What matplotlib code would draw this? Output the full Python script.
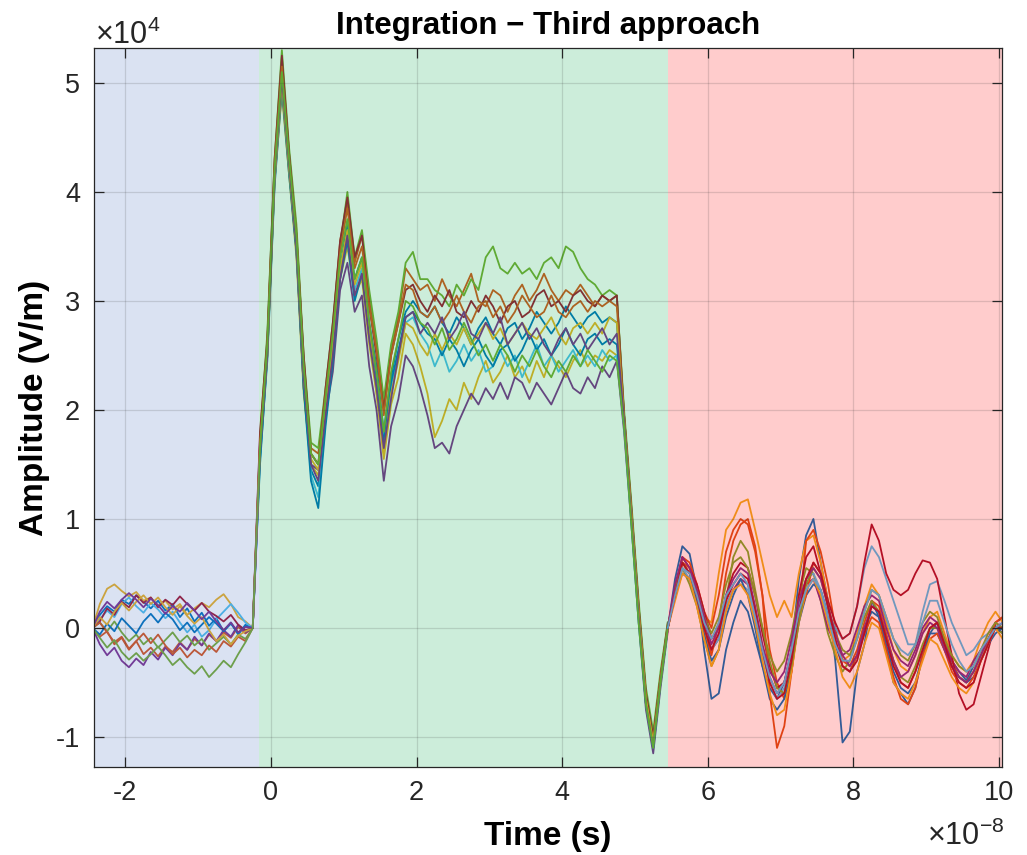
import numpy as np
import matplotlib
matplotlib.use("Agg")
import matplotlib.pyplot as plt

plt.rcParams['font.family'] = ['Liberation Sans', 'DejaVu Sans']
plt.rcParams['mathtext.fontset'] = 'custom'
plt.rcParams['mathtext.rm'] = 'Liberation Sans'

# time in units of 1e-8 s, amplitude in kV/m (1e3 V/m)
t_main = np.linspace(-2.45, 5.45, 80)
t_tail = np.linspace(5.45, 10.05, 47)

# region limits (1e-8 s)
blue_end = -0.16
green_end = 5.45

# traces over the blue and green parts
main_traces = [
    [0, 1.2, 2.0, 1.5, 2.6, 2.2, 3.0, 2.4, 1.8, 2.5, 1.6, 2.2, 1.0, 1.8, 0.6, 1.4, 0.2, 0.9, -0.3, 0.5, -0.6, 0.3, 0,
     15, 25, 41, 50, 42, 35, 22, 14.5, 13, 20, 26, 33, 37, 32, 34, 28, 24, 18, 23, 26.5, 29, 30, 29,
     28.5, 29.5, 28, 27, 28.5, 27.5, 26, 27.5, 28.5, 27, 26, 27.5, 28, 26.5, 27.5, 29, 28, 27, 28, 29.5, 28.5, 27.5, 28.5, 29, 28, 28.5, 28,
     19.5, 10.5, 1.5, -6.5, -10.5, -5, 0],
    [0, -0.8, -0.3, -1.5, -0.9, -2.0, -1.2, -2.4, -1.8, -2.6, -1.7, -2.2, -1.3, -2.0, -1.0, -1.6, -0.6, -1.2, -0.4, -0.9, 0.1, -0.5, 0,
     17, 26, 42, 52, 43.5, 36.5, 24.5, 16.5, 16, 21, 27.5, 35.5, 39, 33.5, 36, 30.5, 26, 20.5, 25.5, 28.5, 33, 32, 31,
     31.5, 30, 32, 30.5, 29.5, 31, 32.5, 30, 29.5, 31, 30.5, 29, 30.5, 31.5, 30, 31, 32.5, 31, 30, 31, 30.5, 31.5, 30.5, 29.5, 30.5, 30, 30.5,
     19.5, 11, 2, -6, -10, -4.5, 0.5],
    [0, 2.2, 3.6, 4.0, 3.4, 2.9, 3.3, 2.5, 2.8, 2.0, 2.5, 1.7, 2.2, 1.2, 1.8, 2.3, 1.9, 2.6, 3.1, 2.2, 1.0, 0.6, 0,
     16, 25, 41, 49, 41.5, 34, 21.5, 15, 14, 20.5, 25, 32, 35, 30.5, 32, 26, 21.5, 15.5, 20.5, 23, 27, 26, 24,
     21.5, 17.5, 19, 21, 20, 22.5, 21, 23, 24.5, 22.5, 23.5, 25, 23, 24, 22.5, 24.5, 23, 25, 24, 23, 24.5, 25.5, 24, 25, 24.5, 25.5, 25,
     18.5, 10, 1, -7, -11, -5, 0],
    [0, -1.5, -2.5, -1.8, -3.0, -3.6, -2.8, -3.4, -2.2, -2.9, -1.8, -2.5, -1.4, -2.0, -0.8, -1.6, -0.5, -1.2, -0.2, -0.8, 0.3, -0.4, 0,
     16.5, 25.5, 41, 50, 42, 34.5, 22, 15, 14.5, 19.5, 23.5, 31, 33.5, 29, 30.5, 24, 20, 13.5, 18.5, 21, 25, 24, 22,
     19.5, 16.5, 17, 16, 18.5, 20, 21.5, 20.5, 22, 21, 22.5, 21, 23, 22.5, 21, 22.5, 21.5, 20.5, 22, 23.5, 22, 21.5, 23, 22, 24, 23, 24.5,
     18, 9.5, 0.5, -7.5, -11.5, -5.5, -0.3],
    [0, 0.5, -0.3, 0.6, -0.4, -1.2, -0.6, -1.5, -0.9, -1.8, -1.1, -0.4, -1.3, -0.7, -1.6, -1.0, -2.0, -1.4, -0.8, -1.5, -0.6, -1.0, 0,
     17.5, 27, 43, 53, 44, 37, 25, 17, 16.5, 22, 28, 35, 40, 34, 36.5, 31, 26.5, 21, 26, 29, 33.5, 34.5, 32,
     32, 31, 30.5, 29.5, 31.5, 30.5, 32, 31, 34, 35, 33, 32.5, 33.5, 32.5, 33, 32, 33.5, 34, 33, 35, 34.5, 33, 32, 31.5, 30.5, 31, 30.5,
     20, 11.5, 2.5, -5.5, -9.5, -4, 0.5],
    [0, 0.8, 1.6, 1.0, 2.2, 2.8, 2.0, 1.4, 2.3, 1.7, 0.9, 1.5, 0.5, -0.4, 0.3, -0.8, -0.2, 0.8, 1.5, 2.2, 1.4, 0.5, 0,
     16, 25.5, 41.5, 50.5, 42.5, 35.5, 23, 14, 12, 19, 25, 32.5, 36, 31, 33, 27.5, 23, 17.5, 22, 25, 28, 28.5, 27,
     26, 24, 25.5, 23.5, 24.5, 26, 24.5, 25.5, 23.5, 24, 25.5, 24, 25, 23, 24.5, 26, 24, 25, 23.5, 24.5, 25.5, 24, 25, 24, 25.5, 24.5, 25,
     18.5, 9.5, 0.5, -7, -11, -5, 0],
    [0, 0.6, 1.8, 1.2, 2.4, 1.9, 3.0, 2.3, 2.8, 1.9, 2.6, 2.1, 2.9, 2.2, 1.6, 2.3, 1.5, 1.1, 0.6, 1.2, 0.3, -0.2, 0,
     18, 26.5, 43, 52.5, 43.5, 36, 25, 16, 15, 22, 28, 35.5, 39.5, 34, 36, 29.5, 25, 20, 25, 28, 31, 31.5, 30,
     29, 30.5, 29.5, 31, 29, 28.5, 30, 29, 30.5, 29.5, 28, 29.5, 30, 28.5, 29, 30.5, 31, 29.5, 30, 29, 30.5, 31, 30, 29.5, 30.5, 30, 30.5,
     19.5, 11, 2, -6, -10, -4.5, 0.3],
    [0, -0.6, 0.4, -0.3, 0.9, 0.2, -0.5, 0.6, 1.3, 0.5, 1.4, 0.8, -0.2, 0.5, -0.4, 0.3, 1.0, 0.4, -0.3, 0.4, -0.5, 0.2, 0,
     15.5, 24.5, 40.5, 49.5, 41.5, 34.5, 22, 13.5, 11, 18.5, 24.5, 32, 35.5, 30, 32.5, 27, 22.5, 17, 22.5, 25.5, 28.5, 29, 28,
     27, 26.5, 25, 26.5, 25.5, 24, 25.5, 26.5, 25, 24, 25.5, 26, 24.5, 25.5, 27, 25.5, 26.5, 25, 26, 27.5, 26, 25, 26.5, 27, 26, 26.5, 26,
     19, 10, 1, -7, -11, -5, 0],
    [0, 0.5, -0.4, -1.3, -0.8, -1.9, -1.2, -0.5, -1.4, -0.6, -1.6, -2.4, -1.8, -2.7, -2.0, -2.5, -1.6, -2.2, -1.2, -1.7, -0.8, -1.2, 0,
     17, 26, 42.5, 51.5, 43, 36, 24, 16, 15, 21.5, 27, 34.5, 38.5, 33, 35, 29.5, 25.5, 19.5, 25, 28, 31.5, 31, 29,
     28.5, 29.5, 28, 29, 30.5, 29, 28, 29.5, 30, 28.5, 29.5, 28, 29, 30.5, 29.5, 28.5, 29, 30.5, 29, 28.5, 29.5, 30, 29, 30, 29.5, 30, 29.5,
     19.5, 10.5, 1.5, -6.5, -10.5, -4.5, 0.2],
    [0, 1.0, 0.3, 1.5, 2.3, 1.6, 2.4, 3.0, 2.2, 2.8, 1.9, 1.2, 2.0, 1.1, 0.4, 1.0, -0.2, -1.2, -0.6, -1.5, -0.7, -0.3, 0,
     16.5, 25, 41, 50, 42, 35, 23, 15.5, 14.5, 20, 26, 33, 36.5, 31.5, 33.5, 27.5, 21.5, 16, 21.5, 24.5, 28, 27.5, 26,
     25, 27, 25.5, 27, 26, 27.5, 26, 27, 28, 26.5, 27.5, 26, 27, 28, 27, 26.5, 27.5, 28.5, 27, 26, 27.5, 28, 27, 28, 27, 28.5, 28,
     19, 10.5, 1.5, -6.5, -10.5, -5, 0],
    [0, 1.5, 2.4, 1.8, 2.6, 3.2, 2.6, 1.9, 2.7, 2.1, 1.3, 2.0, 1.5, 2.3, 1.6, 0.8, 1.5, 0.6, -0.2, 0.5, -0.4, 0.1, 0,
     16, 25, 41.5, 50.5, 42.5, 35, 23, 15, 13.5, 19.5, 25, 32, 36, 30.5, 32.5, 26.5, 22, 16.5, 21, 25, 28.5, 29, 27,
     28, 27, 28.5, 26.5, 27.5, 29, 27, 26.5, 28, 27, 28.5, 26, 27, 28, 26.5, 27.5, 26, 25, 26.5, 27.5, 26, 27, 25.5, 26.5, 27.5, 26, 27,
     19, 10, 1, -7, -11, -5, 0],
    [0, -0.9, -1.8, -1.1, -2.2, -2.9, -2.3, -3.0, -2.4, -1.7, -2.5, -3.4, -2.8, -3.6, -4.2, -3.5, -4.5, -3.8, -3.0, -3.6, -2.4, -1.3, 0,
     16.5, 26, 42, 51, 43, 36, 24, 16, 15, 21, 27, 34, 37.5, 32, 34, 28, 23.5, 18, 23.5, 26.5, 30, 29.5, 28,
     27.5, 26, 27.5, 25.5, 26.5, 28, 26.5, 25, 26, 24.5, 26, 25, 23.5, 25, 24, 25.5, 24, 23, 24.5, 23.5, 25, 24, 25.5, 24.5, 23.5, 25, 24.5,
     18.5, 9.5, 0.5, -7, -11, -5, 0],
]

# traces over the red part
tail_traces = [
    [0, 4.5, 7.5, 6.8, 3.5, -2.0, -6.5, -6.0, -2.0, 0.5, 2.5, 1.5, -1.0, -3.5, -5.5, -6.5, -5.0, -2.0, 4.5, 8.5,
     10.0, 6.0, 2.5, -3.0, -10.5, -9.5, -4.0, -1.5, 2.5, 1.0, -2.0, -5.0, -6.0, -7.0, -5.5, -2.5, -0.5, 0.5, -1.5, -3.0,
     -4.0, -4.8, -3.5, -2.0, -1.5, 0.2, -0.5],
    [0, 3.0, 5.5, 5.0, 3.5, 1.0, 0.5, 5.0, 9.0, 10.0, 11.5, 11.8, 9.0, 6.0, 3.0, 1.0, 2.5, 1.0, 5.0, 8.0,
     8.5, 6.0, 2.5, -1.5, -3.0, -2.5, -0.5, 2.0, 4.0, 3.0, 0.5, -2.0, -3.5, -4.0, -2.5, -0.5, 1.0, 1.5, -0.5, -2.5,
     -3.5, -4.0, -3.0, -1.0, 0.5, 1.5, 0.5],
    [0, 3.5, 6.5, 6.0, 4.0, 1.5, 0.0, 3.0, 7.0, 9.0, 10.0, 9.5, 7.0, 3.0, -2.0, -5.0, -6.5, -4.0, 1.0, 8.0,
     9.0, 7.0, 4.0, 0.0, -3.0, -3.5, -2.0, 0.5, 2.5, 2.0, -0.5, -3.0, -5.0, -5.5, -4.0, -2.0, 0.0, 0.5, -1.0, -3.0,
     -4.5, -5.0, -4.0, -2.5, -1.0, 0.5, 0.0],
    [0, 3.0, 5.5, 4.0, 2.0, -1.0, -3.5, -2.0, 2.5, 6.5, 8.0, 7.0, 3.5, 0.0, -2.5, -4.0, -3.0, -0.5, 3.0, 5.5,
     5.0, 2.5, -0.5, -2.5, -4.0, -3.0, -1.0, 1.0, 2.5, 1.5, -1.0, -3.0, -4.5, -5.0, -3.5, -1.5, 0.0, 0.0, -1.5, -3.5,
     -4.5, -5.0, -4.0, -2.5, -1.0, 0.0, -0.5],
    [0, 3.5, 6.0, 5.0, 3.0, 0.5, -2.0, -1.0, 2.0, 3.5, 4.5, 4.0, 1.5, -2.0, -4.5, -6.0, -5.0, -2.0, 2.0, 4.0,
     4.5, 2.5, 0.0, -1.5, -2.5, -2.0, 0.0, 2.0, 3.0, 2.5, 0.0, -2.0, -3.0, -3.5, -2.0, 0.0, 1.0, 0.5, -1.5, -3.0,
     -4.0, -4.5, -3.0, -2.0, -1.0, 0.0, 0.0],
    [0, 3.5, 5.5, 4.5, 2.5, 0.0, -2.0, -1.0, 2.0, 3.5, 4.0, 3.5, 1.0, -2.5, -5.0, -6.5, -5.5, -2.0, 2.0, 4.5,
     5.0, 3.5, 1.5, 0.0, -1.0, -0.5, 2.0, 5.5, 7.5, 6.5, 4.5, 2.5, 0.5, -1.5, -1.5, 1.5, 4.0, 4.3, 2.5, 0.5,
     -1.0, -2.5, -2.0, -1.0, -0.5, 0.5, 0.0],
    [0, 3.5, 6.5, 5.5, 4.0, 1.5, -1.0, 0.0, 3.0, 5.0, 6.0, 5.5, 3.0, -0.5, -3.5, -5.5, -5.0, -2.5, 3.0, 6.5,
     7.5, 5.0, 2.5, 0.5, -1.0, -0.5, 2.0, 6.0, 9.5, 8.0, 5.0, 3.5, 3.0, 3.5, 5.0, 6.2, 6.0, 4.5, 1.0, -2.5,
     -6.0, -7.5, -7.0, -4.5, -2.0, 0.5, 1.0],
    [0, 3.0, 5.0, 4.5, 2.5, -0.5, -3.0, -2.0, 1.0, 3.0, 4.5, 3.0, 0.0, -3.5, -6.5, -7.5, -6.5, -3.5, 0.5, 3.0,
     4.0, 3.5, 1.0, -1.5, -3.5, -4.0, -2.5, 0.0, 1.5, 1.0, -1.5, -4.0, -5.5, -6.0, -5.0, -2.5, -0.5, -0.5, -2.0, -3.5,
     -4.5, -5.0, -4.5, -3.0, -1.5, -0.5, 0.0],
    [0, 3.0, 6.0, 5.5, 3.0, 0.0, -2.5, 0.5, 5.0, 8.0, 9.5, 10.0, 7.5, 3.0, -6.0, -11.0, -9.0, -4.0, 1.0, 3.0,
     6.0, 5.0, 2.0, -1.0, -3.5, -4.0, -2.5, -0.5, 1.0, 0.5, -2.0, -4.5, -6.5, -7.0, -5.5, -2.5, -1.0, -0.5, -2.0, -4.0,
     -5.0, -5.5, -4.5, -3.0, -1.5, 0.5, 1.0],
    [0, 2.5, 5.0, 4.5, 2.0, -1.0, -3.5, -2.0, 1.5, 3.5, 4.0, 3.0, 0.5, -3.0, -6.0, -8.0, -7.5, -4.0, 0.5, 3.5,
     4.5, 3.0, 0.5, -2.0, -4.5, -5.5, -4.0, -1.5, 0.5, 0.0, -2.5, -5.0, -6.0, -6.5, -5.0, -3.0, -1.0, -1.5, -3.0, -4.5,
     -5.5, -6.0, -5.0, -3.0, -1.5, 0.0, -1.0],
    [0, 3.5, 6.0, 5.0, 3.5, 1.0, -0.5, 1.0, 4.0, 6.0, 6.5, 5.5, 3.0, 0.0, -3.0, -5.5, -6.0, -3.5, 0.5, 4.0,
     5.5, 4.5, 2.0, -0.5, -2.0, -2.5, -1.0, 1.5, 3.5, 3.0, 1.0, -1.0, -2.5, -3.0, -1.5, 0.5, 1.5, 1.0, -1.0, -2.5,
     -3.5, -4.0, -3.5, -2.0, -0.5, 0.5, 0.0],
    [0, 4.0, 6.5, 5.5, 3.5, 1.0, -1.5, 0.0, 3.0, 4.5, 5.5, 5.0, 2.0, -1.5, -4.0, -5.0, -4.0, -1.0, 2.5, 4.5,
     5.5, 4.5, 2.0, -0.5, -2.5, -3.5, -2.5, 0.0, 2.0, 1.5, -1.0, -3.0, -4.5, -4.0, -2.5, -0.5, 0.5, 0.0, -2.0, -3.5,
     -4.5, -5.0, -4.0, -2.5, -1.0, 0.0, 0.5],
    [0, 3.0, 6.0, 5.0, 3.0, 0.0, -2.0, -0.5, 2.5, 4.0, 5.0, 4.5, 1.5, -2.0, -5.0, -6.5, -6.0, -3.0, 1.5, 4.5,
     6.0, 5.0, 2.0, -1.0, -3.5, -4.0, -3.0, -0.5, 2.0, 1.5, -1.0, -3.5, -5.0, -5.5, -4.0, -2.0, 0.0, 0.5, -1.5, -3.5,
     -5.0, -5.5, -5.0, -3.0, -1.5, 0.0, 0.0],
    [0, 3.0, 5.5, 5.0, 3.0, 0.5, -1.0, 0.5, 3.0, 4.0, 5.0, 4.0, 1.0, -2.0, -4.5, -6.0, -5.0, -2.0, 1.5, 3.5,
     4.5, 3.5, 1.0, -1.5, -3.0, -3.0, -1.0, 1.5, 3.5, 3.0, 1.0, -1.0, -2.0, -2.5, -1.5, 0.5, 2.5, 2.5, 0.5, -1.5,
     -3.0, -4.0, -3.5, -2.0, -1.0, 0.0, 0.5],
]

# MATLAB default colour order
matlab_colors = ['#0072BD', '#D95319', '#EDB120', '#7E2F8E', '#77AC30', '#4DBEEE', '#A2142F']
main_color_idx = [0, 1, 2, 3, 4, 5, 6, 0, 1, 2, 3, 4]
tail_color_idx = [0, 2, 1, 4, 3, 5, 6, 0, 1, 2, 4, 3, 6, 5]

x_ticks = [-2, 0, 2, 4, 6, 8, 10]
y_ticks = [-1, 0, 1, 2, 3, 4, 5]

fig = plt.figure(figsize=(10.27, 8.55), dpi=100)
ax = fig.add_axes([94 / 1027, 88 / 855, 908 / 1027, 719 / 855])

for i, tr in enumerate(main_traces):
    if len(tr) != len(t_main):
        raise ValueError("main trace %d has %d points" % (i, len(tr)))
    ax.plot(t_main * 1e-8, np.array(tr) * 1e3, color=matlab_colors[main_color_idx[i]], lw=1.3, zorder=1)

for i, tr in enumerate(tail_traces):
    if len(tr) != len(t_tail):
        raise ValueError("tail trace %d has %d points" % (i, len(tr)))
    ax.plot(t_tail * 1e-8, np.array(tr) * 1e3, color=matlab_colors[tail_color_idx[i]], lw=1.3, zorder=1)

xmin, xmax = -2.43e-8, 10.04e-8
ymin, ymax = -1.275e4, 5.32e4

# transparent region patches on top of the traces
ax.axvspan(xmin, blue_end * 1e-8, color=(0.275, 0.43, 0.745), alpha=0.2, lw=0, zorder=1.5)
ax.axvspan(blue_end * 1e-8, green_end * 1e-8, color=(0.0, 0.647, 0.275), alpha=0.2, lw=0, zorder=1.5)
ax.axvspan(green_end * 1e-8, xmax, color=(1.0, 0.0, 0.0), alpha=0.2, lw=0, zorder=1.5)

ax.set_xlim(xmin, xmax)
ax.set_ylim(ymin, ymax)
ax.set_xticks([v * 1e-8 for v in x_ticks])
ax.set_xticklabels([str(v) for v in x_ticks])
ax.set_yticks([v * 1e4 for v in y_ticks])
ax.set_yticklabels([str(v) for v in y_ticks])

ax.set_axisbelow(False)
ax.grid(True, color='#262626', alpha=0.15, lw=0.9)
ax.tick_params(direction='in', top=True, right=True, length=7, width=0.9,
               colors='#262626', labelsize=19.5)
ax.tick_params(axis='y', pad=10)
ax.tick_params(axis='x', pad=9)
for s in ax.spines.values():
    s.set_color('#262626')
    s.set_linewidth(0.9)
    s.set_zorder(5)

fig.text(548 / 1027, 1 - 26 / 855, 'Integration \u2212 Third approach', ha='center', va='center',
         fontsize=22.5, fontweight='bold', color='black')
fig.text(548 / 1027, 1 - 836 / 855, 'Time (s)', ha='center', va='center',
         fontsize=24, fontweight='bold', color='black')
fig.text(35 / 1027, 1 - 408 / 855, 'Amplitude (V/m)', ha='center', va='center', rotation=90,
         fontsize=24, fontweight='bold', color='black')
fig.text(95 / 1027, 1 - 44 / 855, r'$\mathregular{\times10^{4}}$', ha='left', va='baseline',
         fontsize=22, color='#262626')
fig.text(1004 / 1027, 3 / 855, r'$\mathregular{\times10^{-8}}$', ha='right', va='bottom',
         fontsize=22, color='#262626')

fig.savefig('out.png', dpi=100)
